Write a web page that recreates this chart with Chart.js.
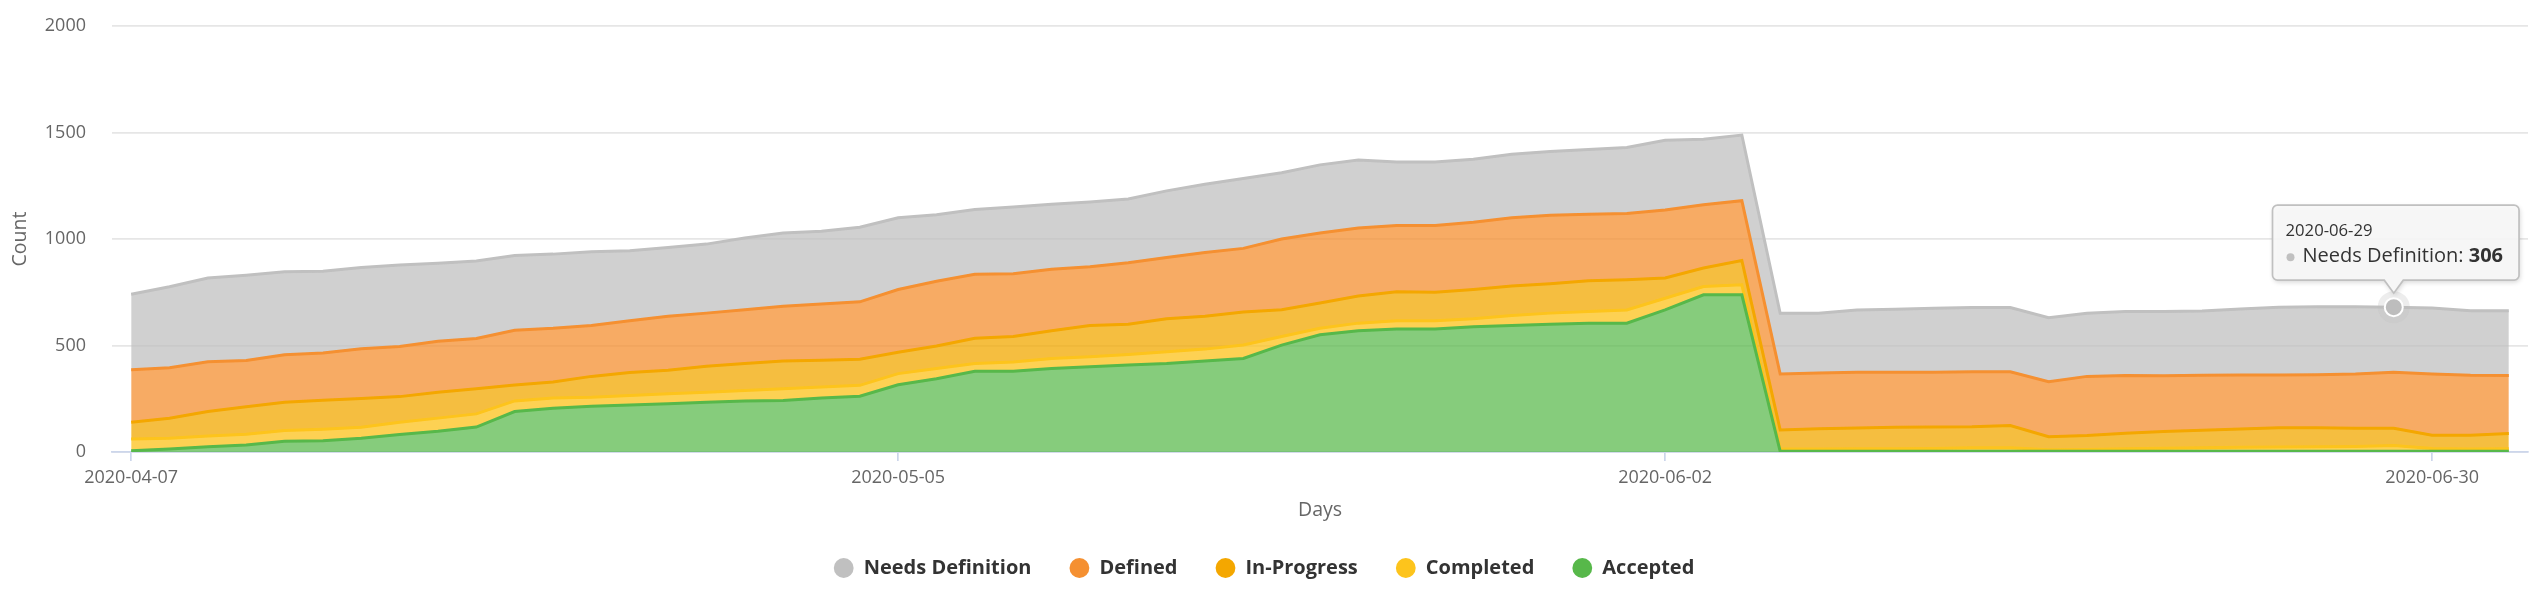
<!DOCTYPE html>
<html>
<head>
<meta charset="utf-8">
<script src="https://cdn.jsdelivr.net/npm/chart.js@4.4.1/dist/chart.umd.min.js"></script>
<style>
  html, body { margin: 0; padding: 0; background: #ffffff; }
  #wrap { width: 2544px; height: 598px; position: relative; }
</style>
</head>
<body>
<div id="wrap"><canvas id="c"></canvas></div>
<script>
// ---- Data ----
const categories = [
  '2020-04-07','2020-04-08','2020-04-09','2020-04-10','2020-04-13','2020-04-14','2020-04-15','2020-04-16','2020-04-17','2020-04-20',
  '2020-04-21','2020-04-22','2020-04-23','2020-04-24','2020-04-27','2020-04-28','2020-04-29','2020-04-30','2020-05-01','2020-05-04',
  '2020-05-05','2020-05-06','2020-05-07','2020-05-08','2020-05-11','2020-05-12','2020-05-13','2020-05-14','2020-05-15','2020-05-18',
  '2020-05-19','2020-05-20','2020-05-21','2020-05-22','2020-05-25','2020-05-26','2020-05-27','2020-05-28','2020-05-29','2020-06-01',
  '2020-06-02','2020-06-03','2020-06-04','2020-06-05','2020-06-08','2020-06-09','2020-06-10','2020-06-11','2020-06-12','2020-06-15',
  '2020-06-16','2020-06-17','2020-06-18','2020-06-19','2020-06-22','2020-06-23','2020-06-24','2020-06-25','2020-06-26','2020-06-29',
  '2020-06-30','2020-07-01','2020-07-02'
];
const tickLabels = ['2020-04-07','2020-05-05','2020-06-02','2020-06-30'];

const accepted = [6,14,25,33,50,53,65,82,97,117, 190,205,215,221,226,234,239,242,253,262,
  316,344,379,379,392,400,408,415,427,439, 502,550,569,578,578,588,594,600,605,605,
  667,738,738, 3,3,3,3,3,3,3, 3,3,3,3,4,4,4,4,4,4, 4,4,4];
const completed = [55,50,50,50,51,54,51,58,62,62, 50,48,42,44,47,47,50,55,52,51,
  52,48,36,44,47,47,50,56,56,63, 40,31,36,38,38,38,47,52,55,62,
  55,39,47, 11,11,12,12,13,17,17, 8,9,12,15,16,18,20,21,22,26, 12,10,11];
const inProgress = [79,94,115,129,133,136,135,120,122,118, 75,76,98,108,111,122,126,130,126,123,
  100,106,119,119,130,147,142,155,154,155, 126,119,127,136,134,137,138,138,144,142,
  95,87,114, 89,95,98,101,101,98,104, 61,66,73,78,82,86,90,89,85,81, 63,65,72];
const defined = [246,238,234,218,223,222,234,235,239,236, 257,252,239,243,253,249,253,257,264,269,
  295,304,300,295,289,276,289,287,300,299, 332,328,320,311,313,316,321,321,312,311,
  319,297,281, 263,262,261,258,257,259,253, 258,277,271,262,258,254,248,249,255,263, 287,281,272];
const needsDefinition = [355,380,393,400,389,384,381,383,366,364, 350,348,346,329,323,324,337,344,341,350,
  337,312,305,313,305,304,299,313,320,328, 311,320,319,299,299,295,298,300,304,310,
  328,307,308, 285,280,293,296,301,301,301, 300,296,301,302,302,309,317,319,316,306, 310,303,304];

const yTicks = [0, 500, 1000, 1500, 2000];
const tooltipDate = '2020-06-29';

// ---- Styles ----
const FONT = "'Open Sans', 'Noto Sans', sans-serif";
const series = [
  { label: 'Accepted',         data: accepted,        color: '#57b84a', fill: 'rgba(87,184,74,0.72)' },
  { label: 'Completed',        data: completed,       color: '#fdc41c', fill: 'rgba(252,194,26,0.75)' },
  { label: 'In-Progress',      data: inProgress,      color: '#f4a700', fill: 'rgba(242,168,0,0.75)' },
  { label: 'Defined',          data: defined,         color: '#f59031', fill: 'rgba(244,143,48,0.75)' },
  { label: 'Needs Definition', data: needsDefinition, color: '#c0c0c0', fill: 'rgba(190,190,190,0.72)' }
];

const datasets = series.map((s, i) => ({
  label: s.label,
  data: s.data,
  borderColor: s.color,
  backgroundColor: s.fill,
  borderWidth: 3,
  fill: i === 0 ? 'origin' : '-1',
  tension: 0,
  pointRadius: 0,
  pointHoverRadius: 0,
  pointBackgroundColor: s.color,
  pointBorderWidth: 0,
  legendColor: s.color
}));

const staticTooltip = {
  id: 'staticTooltip',
  afterDraw(chart) {
    const dsIndex = series.findIndex(s => s.label === 'Needs Definition');
    const idx = categories.indexOf(tooltipDate);
    const el = chart.getDatasetMeta(dsIndex).data[idx];
    if (!el) return;
    const px = el.x, py = el.y;
    const ctx = chart.ctx;
    const col = series[dsIndex].color;
    ctx.save();
    // halo + marker
    ctx.beginPath(); ctx.arc(px, py, 16, 0, Math.PI * 2);
    ctx.fillStyle = 'rgba(192,192,192,0.28)'; ctx.fill();
    ctx.beginPath(); ctx.arc(px, py, 9, 0, Math.PI * 2);
    ctx.fillStyle = '#bdbdbd'; ctx.fill();
    ctx.lineWidth = 2; ctx.strokeStyle = '#ffffff'; ctx.stroke();

    // text measurement
    const headFont = `16.7px ${FONT}`;
    const bodyFont = `20px ${FONT}`;
    const boldFont = `bold 20px ${FONT}`;
    const bodyLabel = series[dsIndex].label + ': ';
    const bodyVal = String(series[dsIndex].data[idx]);
    ctx.font = headFont; const hw = ctx.measureText(tooltipDate).width;
    ctx.font = bodyFont; const bw1 = ctx.measureText(bodyLabel).width;
    ctx.font = boldFont; const bw2 = ctx.measureText(bodyVal).width;
    const w = Math.max(13 + hw + 16, 30 + bw1 + bw2 + 16);
    const h = 75;
    const tipY = py - 14;
    const bottom = tipY - 13;
    const top = bottom - h;
    const left = px + 2 - w / 2;
    const right = left + w;
    const r = 5;
    const cw = 9.5;

    ctx.beginPath();
    ctx.moveTo(left + r, top);
    ctx.lineTo(right - r, top);
    ctx.arcTo(right, top, right, top + r, r);
    ctx.lineTo(right, bottom - r);
    ctx.arcTo(right, bottom, right - r, bottom, r);
    ctx.lineTo(px + cw, bottom);
    ctx.lineTo(px, tipY);
    ctx.lineTo(px - cw, bottom);
    ctx.lineTo(left + r, bottom);
    ctx.arcTo(left, bottom, left, bottom - r, r);
    ctx.lineTo(left, top + r);
    ctx.arcTo(left, top, left + r, top, r);
    ctx.closePath();
    ctx.shadowColor = 'rgba(0,0,0,0.18)';
    ctx.shadowBlur = 5; ctx.shadowOffsetX = 1; ctx.shadowOffsetY = 2;
    ctx.fillStyle = 'rgba(248,248,248,0.92)';
    ctx.fill();
    ctx.shadowColor = 'transparent';
    ctx.lineWidth = 1.7; ctx.strokeStyle = col;
    ctx.stroke();

    ctx.textBaseline = 'middle';
    ctx.textAlign = 'left';
    ctx.fillStyle = '#333333';
    ctx.font = headFont;
    ctx.fillText(tooltipDate, left + 13, top + 26);
    ctx.beginPath(); ctx.arc(left + 18, top + 52, 4, 0, Math.PI * 2);
    ctx.fillStyle = col; ctx.fill();
    ctx.fillStyle = '#333333';
    ctx.font = bodyFont;
    ctx.fillText(bodyLabel, left + 30, top + 51);
    ctx.font = boldFont;
    ctx.fillText(bodyVal, left + 30 + bw1, top + 51);
    ctx.restore();
  }
};

new Chart(document.getElementById('c'), {
  type: 'line',
  data: { labels: categories, datasets },
  plugins: [staticTooltip],
  options: {
    responsive: true,
    maintainAspectRatio: false,
    animation: false,
    events: [],
    layout: { padding: { top: 26, right: 16, bottom: 10, left: 0 } },
    plugins: {
      tooltip: { enabled: false },
      legend: {
        position: 'bottom',
        reverse: true,
        labels: {
          usePointStyle: true,
          boxWidth: 20,
          boxHeight: 14,
          padding: 38,
          color: '#333333',
          font: { family: FONT, size: 20, weight: 'bold' },
          generateLabels(chart) {
            return chart.data.datasets.map((ds, i) => ({
              text: ds.label,
              fillStyle: ds.legendColor,
              strokeStyle: ds.legendColor,
              lineWidth: 0,
              pointStyle: 'circle',
              hidden: false,
              datasetIndex: i,
              fontColor: '#333333'
            }));
          }
        }
      }
    },
    scales: {
      x: {
        type: 'category',
        offset: true,
        grid: {
          offset: false,
          drawOnChartArea: false,
          drawTicks: true,
          tickLength: 9,
          color: '#ccd6eb',
          lineWidth: 1.7
        },
        border: { display: true, color: '#ccd6eb', width: 1.7 },
        ticks: {
          autoSkip: false,
          maxRotation: 0,
          padding: 6,
          color: '#666666',
          font: { family: FONT, size: 18 },
          callback(value) {
            const l = this.getLabelForValue(value);
            return tickLabels.includes(l) ? l : null;
          }
        },
        title: {
          display: true,
          text: 'Days',
          color: '#666666',
          font: { family: FONT, size: 19.5 },
          padding: { top: 4, bottom: -2 }
        }
      },
      y: {
        stacked: true,
        min: yTicks[0],
        max: yTicks[yTicks.length - 1],
        afterFit(scale) { scale.width = 112; },
        afterBuildTicks(scale) { scale.ticks = yTicks.map(v => ({ value: v })); },
        grid: { color: '#e6e6e6', lineWidth: 1.7, drawTicks: true, tickLength: 26, tickColor: 'rgba(0,0,0,0)' },
        border: { display: false },
        ticks: {
          padding: 0,
          color: '#666666',
          font: { family: FONT, size: 18 },
          callback(value) { return String(value); }
        },
        title: {
          display: true,
          text: 'Count',
          color: '#666666',
          font: { family: FONT, size: 19.5 },
          padding: { top: 9, bottom: 0 }
        }
      }
    }
  }
});
</script>
</body>
</html>
